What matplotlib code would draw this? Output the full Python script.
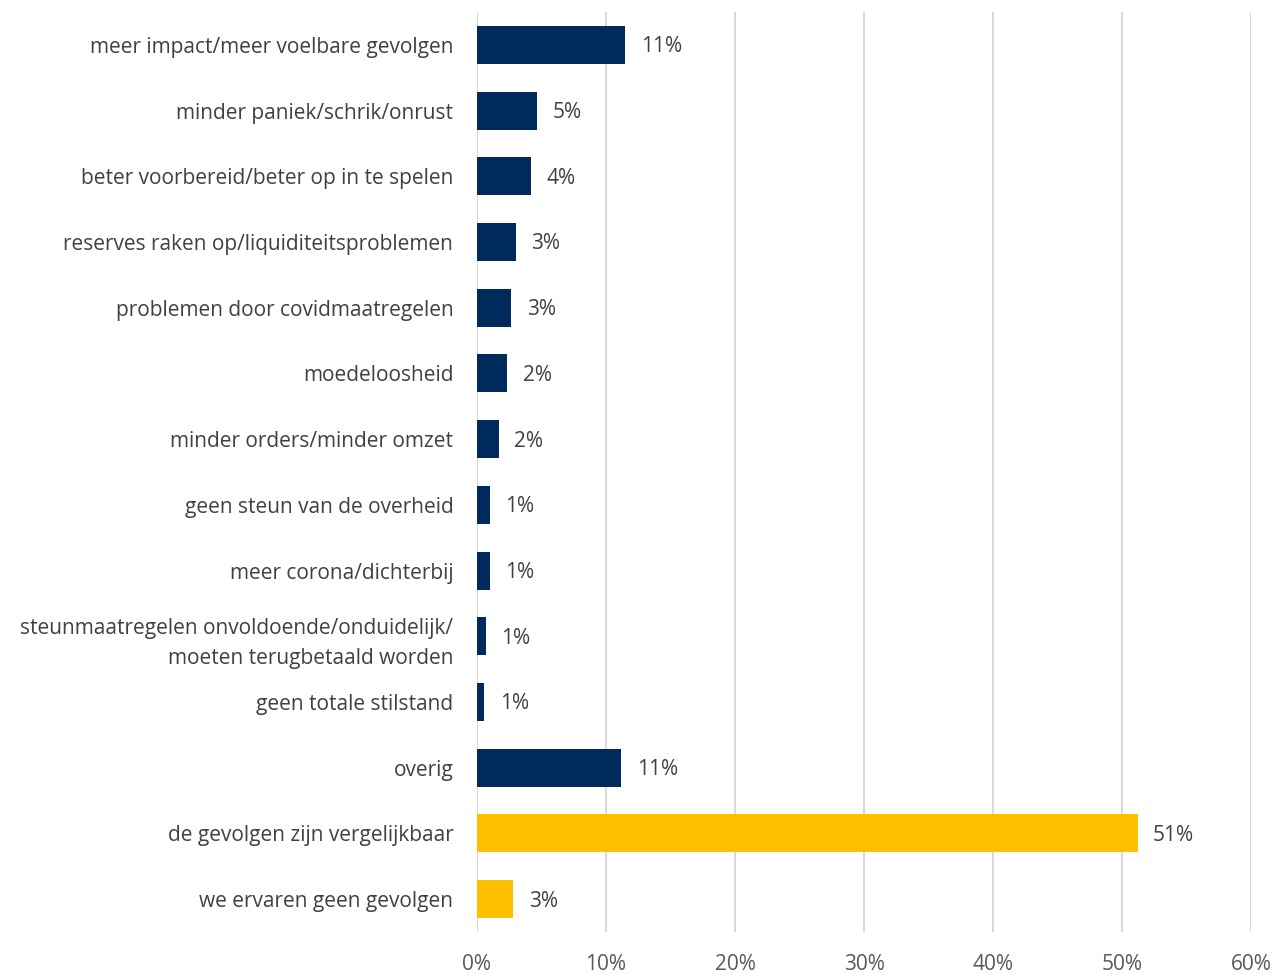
import matplotlib.pyplot as plt
from matplotlib.ticker import PercentFormatter

plt.rcParams['font.family'] = ['Open Sans', 'DejaVu Sans']

categories = [
    "meer impact/meer voelbare gevolgen",
    "minder paniek/schrik/onrust",
    "beter voorbereid/beter op in te spelen",
    "reserves raken op/liquiditeitsproblemen",
    "problemen door covidmaatregelen",
    "moedeloosheid",
    "minder orders/minder omzet",
    "geen steun van de overheid",
    "meer corona/dichterbij",
    "steunmaatregelen onvoldoende/onduidelijk/\nmoeten terugbetaald worden",
    "geen totale stilstand",
    "overig",
    "de gevolgen zijn vergelijkbaar",
    "we ervaren geen gevolgen",
]
values = [11.5, 4.65, 4.2, 3.0, 2.65, 2.35, 1.7, 1.0, 1.0, 0.7, 0.55, 11.2, 51.2, 2.8]
labels = ["11%", "5%", "4%", "3%", "3%", "2%", "2%", "1%", "1%", "1%", "1%", "11%", "51%", "3%"]
colors = ["#002A5C"] * 12 + ["#FFC000"] * 2

fig = plt.figure(figsize=(12.74, 9.75), dpi=100)
ax = fig.add_axes([0.3744, 0.0441, 0.6076, 0.9436])

pos = list(range(len(categories)))
bars = ax.barh(pos, values, height=0.58, color=colors, zorder=3)
for b, lab in zip(bars, labels):
    ax.text(b.get_width() + 1.2, b.get_y() + b.get_height() / 2 + 0.03, lab,
            va="center", ha="left", fontsize=15, color="#404040")

ax.set_ylim(len(categories) - 0.5, -0.5)
ax.set_xlim(0, 60)
ax.set_yticks(pos)
ax.set_yticklabels(categories, fontsize=15, color="#404040", ha="right",
                   linespacing=1.55)
ax.set_xticks(range(0, 61, 10))
ax.xaxis.set_major_formatter(PercentFormatter(decimals=0))
ax.tick_params(axis="x", labelsize=15, labelcolor="#595959", length=0, pad=16)
ax.tick_params(axis="y", length=0, pad=17)
ax.grid(axis="x", color="#D9D9D9", linewidth=1.5, zorder=0)
for s in ax.spines.values():
    s.set_visible(False)

fig.savefig("out.png", dpi=100)
